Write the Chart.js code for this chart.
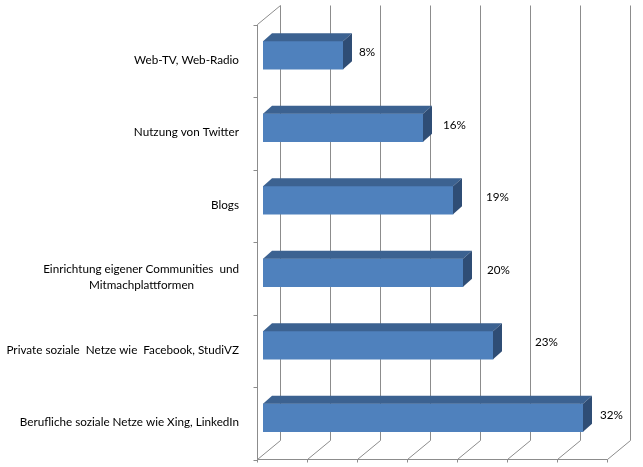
<!DOCTYPE html>
<html>
<head>
<meta charset="utf-8">
<script src="https://cdn.jsdelivr.net/npm/chart.js@4.4.0/dist/chart.umd.min.js"></script>
<style>
  html, body { margin: 0; padding: 0; background: #fff; }
  #wrap { width: 643px; height: 467px; }
</style>
</head>
<body>
<div id="wrap"><canvas id="barChart" width="643" height="467"></canvas></div>
<script>
const categories = [
    'Web-TV, Web-Radio',
    'Nutzung von Twitter',
    'Blogs',
    ['Einrichtung eigener Communities  und', 'Mitmachplattformen'],
    'Private soziale  Netze wie  Facebook, StudiVZ',
    'Berufliche soziale Netze wie Xing, LinkedIn'
];
const shares = [8, 16, 19, 20, 23, 32];
const axisMax = 35;
const axisStep = 5;
// Excel put the value labels a bit unevenly, nudge them to match
const labelNudge = [0, 4, 17, 8, 26, 1];

const FAMILY = 'Lato, "Open Sans", sans-serif';
const FSIZE = 11.7;
const FONT = FSIZE + 'px ' + FAMILY;
const DX = 9, DY = 8;        // bar depth
const WX = 23, WY = 19;      // wall depth
const FRONT = -6;            // front plane vs bar face
const SHIFT = 5;             // bar face sits 5px above front plane centre

// centre the 2nd line of a two line label under the first one
function centreLines(lines) {
    const c = document.createElement('canvas').getContext('2d');
    c.font = FONT;
    const w0 = c.measureText(lines[0]).width;
    const w1 = c.measureText(lines[1]).width;
    const sp = c.measureText('\u00a0').width;
    const n = Math.round((w0 - w1) / 2 / sp);
    return [lines[0], lines[1] + '\u00a0'.repeat(Math.max(0, n))];
}
const yLabels = categories.map(c => Array.isArray(c) ? centreLines(c) : c);

const bar3d = {
    id: 'bar3d',
    beforeDatasetsDraw(chart) {
        const { ctx, chartArea: a, scales: { x } } = chart;
        const fx = v => Math.round(x.getPixelForValue(v) + FRONT) + 0.5;
        const yTop = Math.round(a.top + SHIFT) + 0.5;
        const yBot = Math.round(a.bottom + SHIFT) + 0.5;
        ctx.save();
        ctx.strokeStyle = '#8c8c8c';
        ctx.lineWidth = 1;
        ctx.beginPath();
        for (let v = 0; v <= axisMax; v += axisStep) {
            const px = fx(v);
            ctx.moveTo(px + WX, yTop - WY);
            ctx.lineTo(px + WX, yBot - WY);
            ctx.lineTo(px, yBot);
            ctx.lineTo(px, yBot + 3);
        }
        ctx.moveTo(fx(0), yBot);
        ctx.lineTo(fx(axisMax), yBot);
        ctx.moveTo(fx(0), yBot);
        ctx.lineTo(fx(0), yTop);
        ctx.lineTo(fx(0) + WX, yTop - WY);
        for (let i = 0; i <= categories.length; i++) {
            const y = Math.round(yTop + i * (yBot - yTop) / categories.length) + 0.5;
            ctx.moveTo(fx(0) - 4, y);
            ctx.lineTo(fx(0), y);
        }
        ctx.stroke();
        ctx.restore();
    },
    afterDatasetsDraw(chart) {
        const { ctx } = chart;
        const meta = chart.getDatasetMeta(0);
        ctx.save();
        meta.data.forEach((bar, i) => {
            const x0 = bar.base, x1 = bar.x;
            const t = bar.y - bar.height / 2, b = bar.y + bar.height / 2;
            ctx.fillStyle = '#3c6291';
            ctx.beginPath();
            ctx.moveTo(x0, t);
            ctx.lineTo(x0 + DX, t - DY);
            ctx.lineTo(x1 + DX, t - DY);
            ctx.lineTo(x1, t);
            ctx.closePath();
            ctx.fill();
            ctx.fillStyle = '#2f4d75';
            ctx.beginPath();
            ctx.moveTo(x1, t);
            ctx.lineTo(x1 + DX, t - DY);
            ctx.lineTo(x1 + DX, b - DY);
            ctx.lineTo(x1, b);
            ctx.closePath();
            ctx.fill();

            ctx.fillStyle = '#000';
            ctx.font = FONT;
            ctx.textAlign = 'left';
            ctx.textBaseline = 'middle';
            ctx.fillText(shares[i] + '%', x1 + 16 + labelNudge[i], bar.y - 3);
        });
        ctx.restore();
    }
};

const ctx = document.getElementById('barChart').getContext('2d');
let chart = new Chart(ctx, {
    type: 'bar',
    data: {
        labels: yLabels,
        datasets: [{
            data: shares,
            backgroundColor: '#4f81bd',
            borderWidth: 0,
            barThickness: 28
        }]
    },
    options: {
        indexAxis: 'y',
        responsive: false,
        animation: false,
        layout: { padding: { top: 19, bottom: 13, right: 30, left: 0 } },
        plugins: {
            legend: { display: false },
            tooltip: { enabled: false }
        },
        scales: {
            x: {
                min: 0,
                max: axisMax,
                display: false
            },
            y: {
                grid: { display: false },
                border: { display: false },
                afterFit(scale) {
                    scale.width = 263;
                    scale.paddingTop = 0;
                    scale.paddingBottom = 0;
                },
                ticks: {
                    color: '#000',
                    font: { family: FAMILY, size: FSIZE, lineHeight: 1.4 },
                    padding: 16,
                    labelOffset: 4.5,
                    autoSkip: false
                }
            }
        }
    },
    plugins: [bar3d]
});
</script>
</body>
</html>
